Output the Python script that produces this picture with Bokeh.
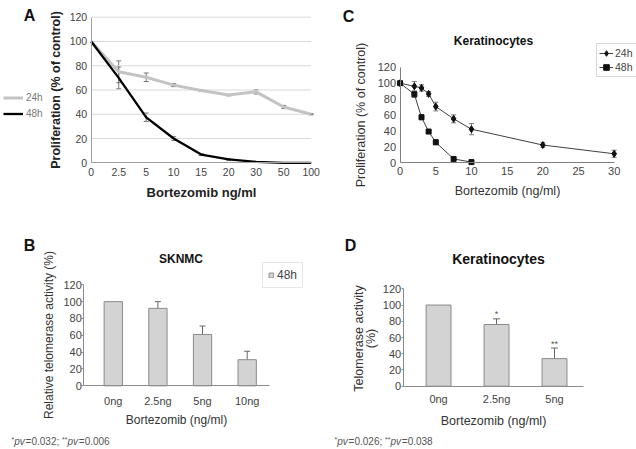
import math
from bokeh.plotting import figure
from bokeh.layouts import row, column
from bokeh.models import (Range1d, FixedTicker, Whisker, TeeHead, ColumnDataSource, Label)
from bokeh.core.properties import value
from bokeh.embed import file_html
from bokeh.resources import INLINE

FONT = "Liberation Sans"

# ---------------- data ----------------
# Panel A (SK-N-MC proliferation)
a_doses = ["0", "2.5", "5", "10", "15", "20", "30", "50", "100"]
a_24h = [100, 75, 70.5, 64, 59.6, 55.8, 58.5, 46, 40]
a_24h_err = [0, 9, 3.5, 1.2, 0.6, 0.6, 1.8, 1.3, 0.5]
a_48h = [100, 70, 37.5, 20, 6.8, 2.8, 0.8, 0, 0]
a_48h_err = [0, 9, 3.5, 1.5, 0.8, 0.8, 0.3, 0, 0]

# Panel C (Keratinocytes proliferation)
c_x24 = [0, 2, 3, 4, 5, 7.5, 10, 20, 30]
c_y24 = [100, 96, 94, 86.5, 70.5, 55, 42, 22, 11]
c_e24 = [1, 6, 4, 3, 5.5, 5, 7, 3, 4.5]
c_x48 = [0, 2, 3, 4, 5, 7.5, 10]
c_y48 = [100, 86, 57, 39, 25.5, 4.5, 0.5]
c_e48 = [1, 4, 3, 2, 3, 1, 0.5]
c_xticks = [0, 5, 10, 15, 20, 25, 30]

# Panel B (SKNMC telomerase)
b_cats = ["0ng", "2.5ng", "5ng", "10ng"]
b_vals = [100, 92, 61, 31]
b_err = [0, 8, 10, 10]

# Panel D (Keratinocytes telomerase)
d_cats = ["0ng", "2.5ng", "5ng"]
d_vals = [100, 76, 34]
d_err = [0, 7, 13]
d_sig = ["", "*", "**"]

y_ticks = [0, 20, 40, 60, 80, 100, 120]

# ---------------- layout geometry (page pixels) ----------------
# figure boxes: (left, top, width, height)
BOX_A = (0, 0, 320, 220)
BOX_C = (320, 0, 316, 220)
BOX_B = (0, 220, 320, 229)
BOX_D = (320, 220, 316, 229)
# plot areas: (left, right, top, bottom)
AREA_A = (90.7, 310.7, 16.7, 162.3)
AREA_C = (399.6, 613.7, 66.8, 162.0)
AREA_B = (83.3, 269.0, 284.3, 385.3)
AREA_D = (402.7, 583.0, 288.3, 385.7)


def make_fig(box, area, xd, yd):
    fx, fy, fw, fh = box
    L, R, T, B = area
    sx = (R - L) / (xd[1] - xd[0])
    sy = (B - T) / (yd[1] - yd[0])
    xr = Range1d(xd[0] - (L - fx) / sx, xd[1] + (fx + fw - R) / sx)
    yr = Range1d(yd[0] - (fy + fh - B) / sy, yd[1] + (T - fy) / sy)
    p = figure(width=fw, height=fh, x_range=xr, y_range=yr, output_backend="svg",
               toolbar_location=None, min_border=0, min_border_left=0,
               min_border_right=0, min_border_top=0, min_border_bottom=0)
    p.outline_line_color = None
    p.xgrid.grid_line_color = None
    p.ygrid.grid_line_color = None
    xa, ya = p.xaxis[0], p.yaxis[0]
    xa.fixed_location = yd[0]
    ya.fixed_location = xd[0]
    xa.bounds = (xd[0], xd[1])
    ya.bounds = (yd[0], yd[1])
    for ax in (xa, ya):
        ax.major_label_text_font = FONT
        ax.axis_label_text_font = FONT
        ax.axis_label_text_font_style = "normal"
        ax.minor_tick_line_color = None
        ax.major_tick_line_color = None
        ax.major_tick_in = 0
        ax.major_tick_out = 0
        ax.axis_line_color = "#8c8c8c"
        ax.major_label_text_color = "#444444"
        ax.axis_label_text_color = "#333333"
    ya.ticker = FixedTicker(ticks=y_ticks)
    p._box = box
    return p


def add_label(p, px, py, text, size, style="normal", color="#111111", align="center",
              angle=0.0):
    fx, fy, fw, fh = p._box
    p.add_layout(Label(x=px - fx, y=fy + fh - py, x_units="screen", y_units="screen",
                       text=text, text_font=FONT, text_font_size=f"{size}px",
                       text_font_style=style, text_color=color, text_align=align,
                       text_baseline="middle", angle=angle))


def place_legend(p, px_left, py_bottom):
    # tuple location = bottom-left corner of the legend, measured from frame bottom-left
    fx, fy, fw, fh = p._box
    p.legend[0].location = (px_left - fx, fy + fh - py_bottom)


CW = {"*": 0.389, "p": 0.556, "v": 0.5, "=": 0.584, ".": 0.278, ";": 0.278, " ": 0.278}


def tw(t, size):
    return sum(CW.get(ch, 0.556) for ch in t) * size


def footnote(p, px, py, v1, v2):
    parts = [("*", "normal", 7, -2), ("pv", "italic", 10, 0), (f"={v1}; ", "normal", 10, 0),
             ("**", "normal", 7, -2), ("pv", "italic", 10, 0), (f"={v2}", "normal", 10, 0)]
    x = px
    for t, st, sz, dy in parts:
        add_label(p, x, py + dy, t, sz, st, "#555555", "left")
        x += tw(t, sz) + (0.8 if st == "italic" else 0)


def whiskers(p, xs, ys, es, color, size):
    xx = [x for x, e in zip(xs, es) if e > 0]
    up = [y + e for y, e in zip(ys, es) if e > 0]
    lo = [y - e for y, e in zip(ys, es) if e > 0]
    src = ColumnDataSource(dict(x=xx, upper=up, lower=lo))
    w = Whisker(base="x", upper="upper", lower="lower", source=src,
                line_color=color, line_width=1,
                upper_head=TeeHead(size=size, line_color=color, line_width=1),
                lower_head=TeeHead(size=size, line_color=color, line_width=1))
    p.add_layout(w)


def style_legend(lg, size, color, border, gw, gh, lh, pad, standoff, spacing=0):
    lg.border_line_color = border
    if border is None:
        lg.background_fill_alpha = 0
    else:
        lg.background_fill_color = "white"
        lg.border_line_width = 1
    lg.label_text_font = FONT
    lg.label_text_font_size = f"{size}px"
    lg.label_text_color = color
    lg.glyph_width = gw
    lg.glyph_height = gh
    lg.label_height = lh
    lg.padding = pad
    lg.margin = 0
    lg.spacing = spacing
    lg.label_standoff = standoff


# ---------------- Panel A ----------------
ax_idx = list(range(len(a_doses)))
pA = make_fig(BOX_A, AREA_A, (0, len(a_doses) - 1), (0, 120))
# horizontal gridlines limited to the plot area
pA.segment(x0=[ax_idx[0]] * (len(y_ticks) - 1), x1=[ax_idx[-1]] * (len(y_ticks) - 1),
           y0=y_ticks[1:], y1=y_ticks[1:], line_color="#d9d9d9", line_width=1)
pA.xaxis[0].ticker = FixedTicker(ticks=ax_idx)
pA.xaxis[0].major_label_overrides = {i: s for i, s in zip(ax_idx, a_doses)}
for ax in (pA.xaxis[0], pA.yaxis[0]):
    ax.major_label_text_font_size = "10.5px"
    ax.axis_label_text_font_style = "bold"
    ax.axis_label_text_color = "#222222"
    ax.axis_line_color = "#a0a0a0"
pA.xaxis[0].major_label_standoff = 5
pA.yaxis[0].major_label_standoff = 4
pA.xaxis[0].axis_label = "Bortezomib ng/ml"
pA.xaxis[0].axis_label_text_font_size = "13px"
pA.xaxis[0].axis_label_standoff = 6
pA.yaxis[0].axis_label = "Proliferation (% of control)"
pA.yaxis[0].axis_label_text_font_size = "12.5px"
pA.yaxis[0].axis_label_standoff = 4
pA.line(ax_idx, a_24h, line_color="#c3c3c3", line_width=3, legend_label="24h")
pA.line(ax_idx, a_48h, line_color="#000000", line_width=2.3, legend_label="48h")
whiskers(pA, ax_idx, a_24h, a_24h_err, "#777777", 5)
whiskers(pA, ax_idx, a_48h, a_48h_err, "#777777", 5)
style_legend(pA.legend[0], 10, "#777777", None, 20, 15, 15, 0, 3, 1)
place_legend(pA, 3, 121)
add_label(pA, 29, 15, "A", 16, "bold")

# ---------------- Panel C ----------------
pC = make_fig(BOX_C, AREA_C, (0, 30), (0, 120))
pC.xaxis[0].ticker = FixedTicker(ticks=c_xticks)
for ax in (pC.xaxis[0], pC.yaxis[0]):
    ax.major_label_text_font_size = "11px"
    ax.axis_label_text_font_size = "12.5px"
    ax.axis_line_color = "#7f7f7f"
pC.xaxis[0].major_label_standoff = 4
pC.yaxis[0].major_label_standoff = 4
pC.xaxis[0].axis_label = "Bortezomib (ng/ml)"
pC.xaxis[0].axis_label_standoff = 6
pC.yaxis[0].axis_label = "Proliferation (% of control)"
pC.yaxis[0].axis_label_standoff = 7
whiskers(pC, c_x24, c_y24, c_e24, "#7a7a7a", 5)
whiskers(pC, c_x48, c_y48, c_e48, "#7a7a7a", 5)
pC.line(c_x24, c_y24, line_color="#404040", line_width=1, legend_label="24h")
pC.scatter(c_x24, c_y24, marker="diamond", size=7, fill_color="#111111",
           line_color="#111111", legend_label="24h")
pC.line(c_x48, c_y48, line_color="#404040", line_width=1, legend_label="48h")
pC.scatter(c_x48, c_y48, marker="square", size=5, fill_color="#111111",
           line_color="#111111", legend_label="48h")
style_legend(pC.legend[0], 10.5, "#444444", "#b0b0b0", 14, 14, 14, 2, 2, 0)
place_legend(pC, 596, 77)
add_label(pC, 493, 40, "Keratinocytes", 12, "bold")
add_label(pC, 348, 16, "C", 16, "bold")

# ---------------- Panel B ----------------
bx = list(range(len(b_cats)))
pB = make_fig(BOX_B, AREA_B, (-0.66, len(b_cats) - 0.5), (0, 120))
pB.xaxis[0].ticker = FixedTicker(ticks=bx)
pB.xaxis[0].major_label_overrides = {i: s for i, s in zip(bx, b_cats)}
for ax in (pB.xaxis[0], pB.yaxis[0]):
    ax.major_label_text_font_size = "11px"
    ax.axis_label_text_font_size = "12px"
pB.yaxis[0].major_tick_out = 2
pB.yaxis[0].major_tick_line_color = "#8c8c8c"
pB.xaxis[0].major_label_standoff = 9
pB.yaxis[0].major_label_standoff = 0
pB.xaxis[0].axis_label = "Bortezomib (ng/ml)"
pB.xaxis[0].axis_label_standoff = 3
pB.yaxis[0].axis_label = "Relative telomerase activity (%)"
pB.yaxis[0].axis_label_standoff = 4
pB.vbar(x=bx, top=b_vals, width=0.41, fill_color="#d3d3d3", line_color="#8a8a8a",
        line_width=1, legend_label="48h")
whiskers(pB, bx, b_vals, b_err, "#666666", 6)
style_legend(pB.legend[0], 12, "#444444", "#d0d0d0", 6, 6, 14, 5, 3)
place_legend(pB, 262, 288)
add_label(pB, 180.5, 258, "SKNMC", 12, "bold")
add_label(pB, 29, 245, "B", 16, "bold")
footnote(pB, 11, 441, "0.032", "0.006")

# ---------------- Panel D ----------------
dx = list(range(len(d_cats)))
pD = make_fig(BOX_D, AREA_D, (-0.61, len(d_cats) - 0.5), (0, 120))
pD.xaxis[0].ticker = FixedTicker(ticks=dx)
pD.xaxis[0].major_label_overrides = {i: s for i, s in zip(dx, d_cats)}
for ax in (pD.xaxis[0], pD.yaxis[0]):
    ax.major_label_text_font_size = "11px"
    ax.axis_label_text_font_size = "12.5px"
pD.yaxis[0].major_tick_out = 2
pD.yaxis[0].major_tick_line_color = "#8c8c8c"
pD.xaxis[0].major_label_standoff = 7
pD.yaxis[0].major_label_standoff = 0
pD.xaxis[0].axis_label = "Bortezomib (ng/ml)"
pD.xaxis[0].axis_label_standoff = 5
pD.vbar(x=dx, top=d_vals, width=0.43, fill_color="#d3d3d3", line_color="#8a8a8a",
        line_width=1)
whiskers(pD, dx, d_vals, d_err, "#666666", 7)
sig_x = [x for x, s in zip(dx, d_sig) if s]
sig_y = [v + e + 5.5 for v, e, s in zip(d_vals, d_err, d_sig) if s]
pD.text(x=sig_x, y=sig_y, text=[s for s in d_sig if s], text_font=value(FONT),
        text_font_size="9px", text_color="#555555", text_align="center",
        text_baseline="middle")
add_label(pD, 358, 338, "Telomerase activity", 12.5, "normal", "#333333", angle=math.pi / 2)
add_label(pD, 370, 338, "(%)", 12.5, "normal", "#333333", angle=math.pi / 2)
add_label(pD, 498, 258, "Keratinocytes", 14, "bold")
add_label(pD, 350, 245, "D", 16, "bold")
footnote(pD, 334, 441, "0.026", "0.038")

layout = column(row(pA, pC, spacing=0), row(pB, pD, spacing=0), spacing=0)
open("out.html", "w").write(file_html(layout, INLINE))
